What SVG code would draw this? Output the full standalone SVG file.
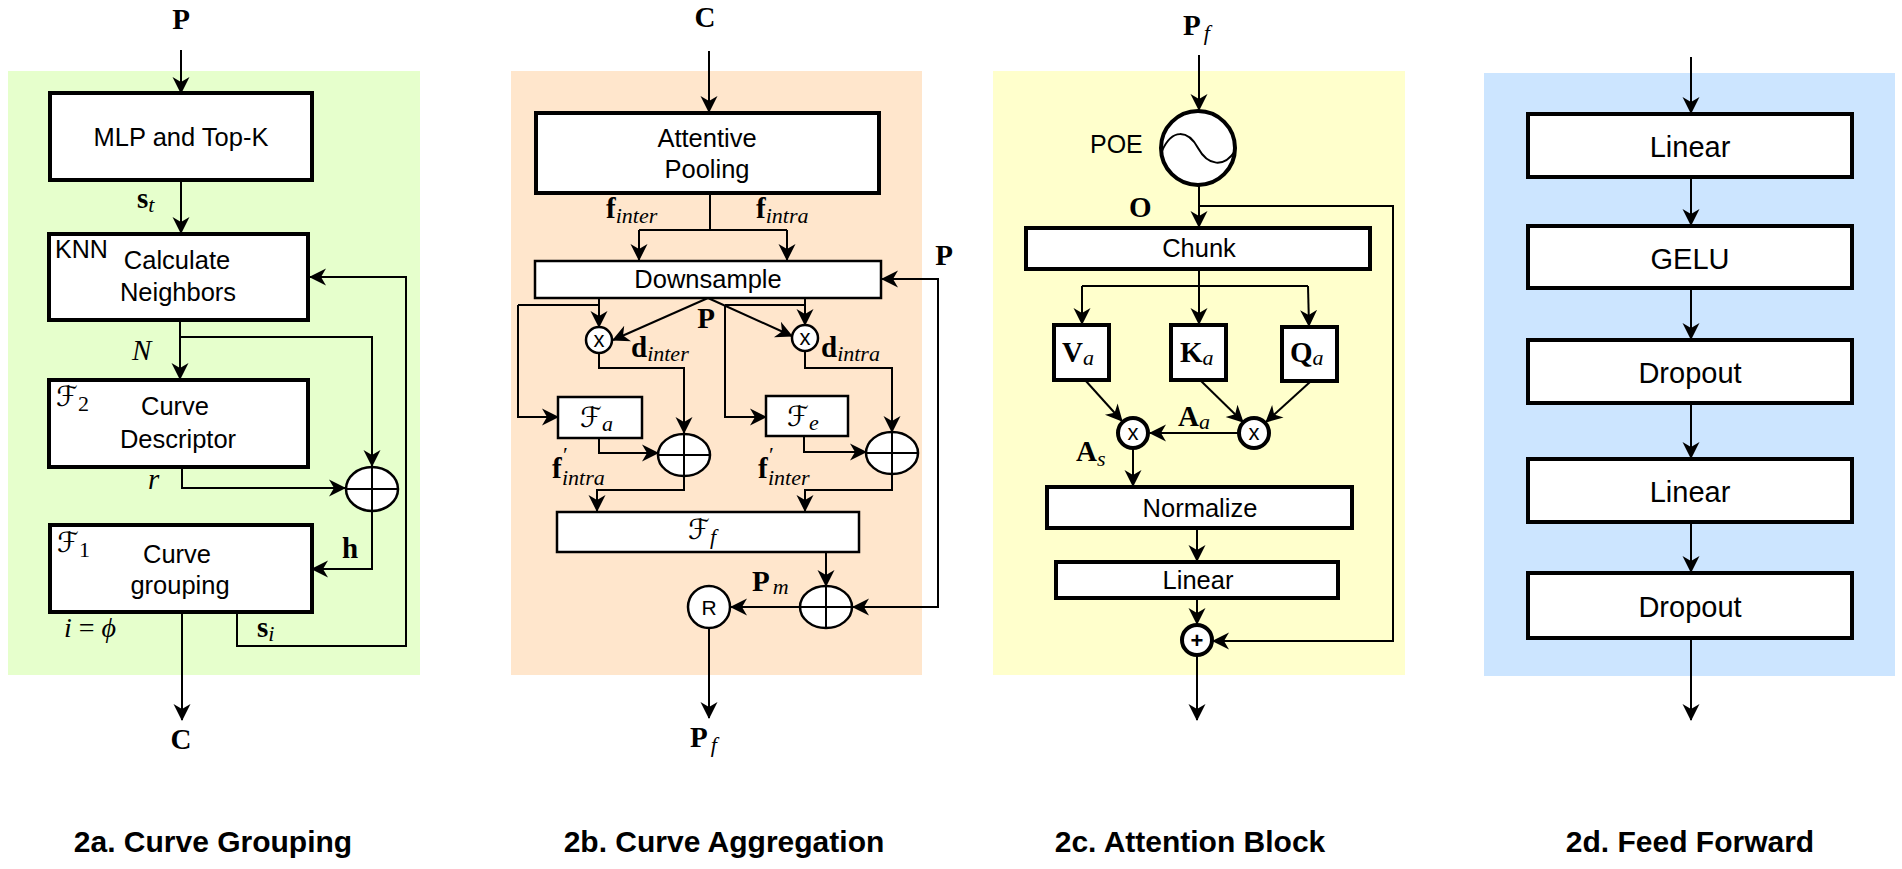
<svg xmlns="http://www.w3.org/2000/svg" width="1902" height="869" viewBox="0 0 1902 869">
  <style>
    .box { fill: #ffffff; stroke: #000; stroke-width: 4; }
    .tbox { fill: #ffffff; stroke: #000; stroke-width: 2.5; }
    .op { fill: #ffffff; stroke: #000; stroke-width: 2.5; }
    .opk { fill: #ffffff; stroke: #000; stroke-width: 4; }
    .ln { fill: none; stroke: #000; stroke-width: 2; }
    .ar { fill: none; stroke: #000; stroke-width: 2; marker-end: url(#arr); }
    .t { font-family: "Liberation Sans", Arial, sans-serif; font-size: 25.5px; fill: #000; text-anchor: middle; }
    .tl { font-family: "Liberation Sans", Arial, sans-serif; font-size: 25px; fill: #000; }
    .t2 { font-family: "Liberation Sans", Arial, sans-serif; font-size: 29px; fill: #000; text-anchor: middle; }
    .sm { font-family: "Liberation Sans", Arial, sans-serif; font-size: 22px; fill: #000; text-anchor: middle; }
    .title { font-family: "Liberation Sans", Arial, sans-serif; font-size: 30px; font-weight: bold; fill: #000; text-anchor: middle; }
    .mb { font-family: "Liberation Serif", "DejaVu Serif", serif; font-size: 29px; font-weight: bold; fill: #000; }
    .mi { font-family: "Liberation Serif", "DejaVu Serif", serif; font-size: 29px; font-style: italic; fill: #000; }
    .mr { font-family: "Liberation Serif", "DejaVu Serif", serif; font-size: 28px; fill: #000; }
    .sub { font-family: "Liberation Serif", "DejaVu Serif", serif; font-size: 22px; font-style: italic; font-weight: normal; }
    .subr { font-family: "Liberation Serif", "DejaVu Serif", serif; font-size: 22px; font-style: normal; font-weight: normal; }
    .cal { font-family: "DejaVu Serif", "DejaVu Sans", serif; font-size: 28px; fill: #000; }
  </style>
  <defs>
    <marker id="arr" markerWidth="20" markerHeight="20" refX="16" refY="9" orient="auto-start-reverse" markerUnits="userSpaceOnUse">
      <path d="M0,0.5 L17,9 L0,17.5 L5,9 Z" fill="#000"/>
    </marker>
  </defs>

  <!-- panel backgrounds -->
  <rect id="bg-grouping" x="8" y="71" width="412" height="604" fill="#E6FFCC"/>
  <rect id="bg-aggregation" x="511" y="71" width="411" height="604" fill="#FFE6CC"/>
  <rect id="bg-attention" x="993" y="71" width="412" height="604" fill="#FFFFCC"/>
  <rect id="bg-feedforward" x="1484" y="73" width="411" height="603" fill="#CCE5FF"/>

  <!-- connectors -->
  <g id="connectors">
    <!-- 2a -->
    <line class="ar" x1="181" y1="50" x2="181" y2="93"/>
    <line class="ar" x1="181" y1="180" x2="181" y2="233"/>
    <line class="ar" x1="180" y1="320" x2="180" y2="379"/>
    <polyline class="ar" points="180,337 372,337 372,466"/>
    <polyline class="ar" points="182,467 182,488 345,488"/>
    <polyline class="ar" points="372,511 372,569 312,569"/>
    <line class="ar" x1="182" y1="612" x2="182" y2="720"/>
    <polyline class="ar" points="237,612 237,646 406,646 406,277 310,277"/>

    <!-- 2b -->
    <line class="ar" x1="709" y1="51" x2="709" y2="112"/>
    <line class="ln" x1="710" y1="193" x2="710" y2="230"/>
    <line class="ln" x1="639" y1="230" x2="787" y2="230"/>
    <line class="ar" x1="639" y1="230" x2="639" y2="260"/>
    <line class="ar" x1="787" y1="230" x2="787" y2="260"/>
    <path class="ar" d="M882,279 L938,279 L938,607 L853,607" marker-start="url(#arr)"/>
    <line class="ar" x1="599" y1="298" x2="599" y2="327"/>
    <line class="ln" x1="518" y1="305" x2="599" y2="305"/>
    <polyline class="ar" points="518,305 518,417 558,417"/>
    <line class="ar" x1="805" y1="298" x2="805" y2="325"/>
    <line class="ln" x1="725" y1="305" x2="805" y2="305"/>
    <polyline class="ar" points="725,305 725,417 766,417"/>
    <line class="ar" x1="708" y1="298" x2="613" y2="340"/>
    <line class="ar" x1="708" y1="298" x2="792" y2="336"/>
    <polyline class="ar" points="599,353 599,368 684,368 684,433"/>
    <polyline class="ar" points="805,351 805,368 892,368 892,432"/>
    <polyline class="ar" points="599,438 599,453 658,453"/>
    <polyline class="ar" points="804,436 804,452 866,452"/>
    <polyline class="ar" points="684,476 684,490 597,490 597,511"/>
    <polyline class="ar" points="892,474 892,490 805,490 805,511"/>
    <line class="ar" x1="826" y1="552" x2="826" y2="586"/>
    <line class="ar" x1="800" y1="607" x2="731" y2="607"/>
    <line class="ar" x1="709" y1="628" x2="709" y2="718"/>

    <!-- 2c -->
    <line class="ar" x1="1199" y1="55" x2="1199" y2="110"/>
    <line class="ar" x1="1199" y1="186" x2="1199" y2="227"/>
    <polyline class="ar" points="1199,206 1393,206 1393,641 1213,641"/>
    <line class="ar" x1="1199" y1="269" x2="1199" y2="324"/>
    <line class="ln" x1="1082" y1="286" x2="1308" y2="286"/>
    <line class="ar" x1="1082" y1="286" x2="1082" y2="324"/>
    <line class="ar" x1="1308" y1="286" x2="1309" y2="326"/>
    <line class="ar" x1="1085" y1="380" x2="1122" y2="421"/>
    <line class="ar" x1="1200" y1="380" x2="1243" y2="422"/>
    <line class="ar" x1="1310" y1="382" x2="1266" y2="422"/>
    <line class="ar" x1="1238" y1="433" x2="1150" y2="433"/>
    <line class="ar" x1="1133" y1="449" x2="1133" y2="486"/>
    <line class="ar" x1="1197" y1="528" x2="1197" y2="561"/>
    <line class="ar" x1="1197" y1="598" x2="1197" y2="624"/>
    <line class="ar" x1="1197" y1="655" x2="1197" y2="720"/>

    <!-- 2d -->
    <line class="ar" x1="1691" y1="57" x2="1691" y2="113"/>
    <line class="ar" x1="1691" y1="177" x2="1691" y2="225"/>
    <line class="ar" x1="1691" y1="288" x2="1691" y2="339"/>
    <line class="ar" x1="1691" y1="403" x2="1691" y2="458"/>
    <line class="ar" x1="1691" y1="522" x2="1691" y2="572"/>
    <line class="ar" x1="1691" y1="638" x2="1691" y2="720"/>
  </g>

  <!-- ===== 2a. Curve Grouping ===== -->
  <g id="a-mlp">
    <rect class="box" x="50" y="93" width="262" height="87"/>
    <text class="t" x="181" y="146">MLP and Top-K</text>
  </g>
  <g id="a-knn">
    <rect class="box" x="49" y="234" width="259" height="86"/>
    <text class="tl" x="55" y="258">KNN</text>
    <text class="t" x="177" y="269">Calculate</text>
    <text class="t" x="178" y="301">Neighbors</text>
  </g>
  <g id="a-descriptor">
    <rect class="box" x="49" y="380" width="259" height="87"/>
    <text class="cal" x="56" y="406">ℱ<tspan class="subr" dy="5">2</tspan></text>
    <text class="t" x="175" y="415">Curve</text>
    <text class="t" x="178" y="448">Descriptor</text>
  </g>
  <g id="a-sum">
    <ellipse class="op" cx="372" cy="489" rx="26" ry="22"/>
    <line class="ln" x1="346" y1="489" x2="398" y2="489"/>
    <line class="ln" x1="372" y1="467" x2="372" y2="511"/>
  </g>
  <g id="a-grouping">
    <rect class="box" x="50" y="525" width="262" height="87"/>
    <text class="cal" x="57" y="552">ℱ<tspan class="subr" dy="5">1</tspan></text>
    <text class="t" x="177" y="563">Curve</text>
    <text class="t" x="180" y="594">grouping</text>
  </g>
  <g id="a-labels">
    <text class="mb" x="181" y="29" text-anchor="middle">P</text>
    <text class="mb" x="137" y="208">s<tspan class="sub" dy="4">t</tspan></text>
    <text class="mi" x="132" y="360">N</text>
    <text class="mi" x="148" y="489">r</text>
    <text class="mb" x="342" y="558">h</text>
    <text class="mb" x="257" y="637">s<tspan class="sub" dy="4">i</tspan></text>
    <text class="mr" x="64" y="637"><tspan font-style="italic">i</tspan> = <tspan font-style="italic">ϕ</tspan></text>
    <text class="mb" x="181" y="749" text-anchor="middle">C</text>
    <text class="title" x="213" y="852">2a. Curve Grouping</text>
  </g>

  <!-- ===== 2b. Curve Aggregation ===== -->
  <g id="b-pooling">
    <rect class="box" x="536" y="113" width="343" height="80"/>
    <text class="t" x="707" y="147">Attentive</text>
    <text class="t" x="707" y="178">Pooling</text>
  </g>
  <g id="b-downsample">
    <rect class="tbox" x="535" y="261" width="346" height="37"/>
    <text class="t" x="708" y="288">Downsample</text>
  </g>
  <g id="b-mul-inter">
    <circle class="op" cx="599" cy="340" r="13"/>
    <text class="sm" x="599" y="347">x</text>
  </g>
  <g id="b-mul-intra">
    <circle class="op" cx="805" cy="338" r="13"/>
    <text class="sm" x="805" y="345">x</text>
  </g>
  <g id="b-fa">
    <rect class="tbox" x="558" y="397" width="84" height="41"/>
    <text class="cal" x="580" y="427">ℱ<tspan class="sub" dy="4">a</tspan></text>
  </g>
  <g id="b-fe">
    <rect class="tbox" x="766" y="396" width="82" height="40"/>
    <text class="cal" x="787" y="426">ℱ<tspan class="sub" dy="4">e</tspan></text>
  </g>
  <g id="b-sum-inter">
    <ellipse class="op" cx="684" cy="455" rx="26" ry="21"/>
    <line class="ln" x1="658" y1="455" x2="710" y2="455"/>
    <line class="ln" x1="684" y1="434" x2="684" y2="476"/>
  </g>
  <g id="b-sum-intra">
    <ellipse class="op" cx="892" cy="453" rx="26" ry="21"/>
    <line class="ln" x1="866" y1="453" x2="918" y2="453"/>
    <line class="ln" x1="892" y1="432" x2="892" y2="474"/>
  </g>
  <g id="b-ff">
    <rect class="tbox" x="557" y="512" width="302" height="40"/>
    <text class="cal" x="688" y="539">ℱ<tspan class="sub" dy="5">f</tspan></text>
  </g>
  <g id="b-sum-out">
    <ellipse class="op" cx="826" cy="607" rx="26" ry="21"/>
    <line class="ln" x1="800" y1="607" x2="852" y2="607"/>
    <line class="ln" x1="826" y1="586" x2="826" y2="628"/>
  </g>
  <g id="b-reshape">
    <circle class="op" cx="709" cy="607" r="21"/>
    <text class="t" x="709" y="615" style="font-size:21px">R</text>
  </g>
  <g id="b-labels">
    <text class="mb" x="705" y="27" text-anchor="middle">C</text>
    <text class="mb" x="606" y="218">f<tspan class="sub" dy="5">inter</tspan></text>
    <text class="mb" x="756" y="218">f<tspan class="sub" dy="5">intra</tspan></text>
    <text class="mb" x="944" y="265" text-anchor="middle">P</text>
    <text class="mb" x="706" y="328" text-anchor="middle">P</text>
    <text class="mb" x="631" y="357">d<tspan class="sub" dy="4">inter</tspan></text>
    <text class="mb" x="821" y="357">d<tspan class="sub" dy="4">intra</tspan></text>
    <text class="mb" x="552" y="478">f</text>
    <text class="subr" x="563" y="462" font-size="18">′</text>
    <text class="sub" x="562" y="485">intra</text>
    <text class="mb" x="758" y="478">f</text>
    <text class="subr" x="769" y="462" font-size="18">′</text>
    <text class="sub" x="768" y="485">inter</text>
    <text class="mb" x="752" y="591">P<tspan class="sub" dx="3" dy="3">m</tspan></text>
    <text class="mb" x="690" y="747">P<tspan class="sub" dx="3" dy="5">f</tspan></text>
    <text class="title" x="724" y="852">2b. Curve Aggregation</text>
  </g>

  <!-- ===== 2c. Attention Block ===== -->
  <g id="c-poe">
    <circle class="opk" cx="1198" cy="148" r="37" stroke-width="4.5"/>
    <path class="ln" d="M1162,151 C1172,128 1188,130 1198,148 C1208,166 1224,168 1235,151"/>
    <text class="tl" x="1090" y="153">POE</text>
  </g>
  <g id="c-chunk">
    <rect class="box" x="1026" y="228" width="344" height="41"/>
    <text class="t" x="1199" y="257">Chunk</text>
  </g>
  <g id="c-v">
    <rect class="box" x="1054" y="325" width="55" height="55"/>
    <text class="mb" x="1062" y="362">V<tspan class="sub" dy="3">a</tspan></text>
  </g>
  <g id="c-k">
    <rect class="box" x="1171" y="325" width="55" height="55"/>
    <text class="mb" x="1180" y="362">K<tspan class="sub" dy="3">a</tspan></text>
  </g>
  <g id="c-q">
    <rect class="box" x="1282" y="327" width="55" height="54"/>
    <text class="mb" x="1290" y="362">Q<tspan class="sub" dy="3">a</tspan></text>
  </g>
  <g id="c-mul-out">
    <circle class="opk" cx="1133" cy="433" r="15"/>
    <text class="sm" x="1133" y="440">x</text>
  </g>
  <g id="c-mul-attn">
    <circle class="opk" cx="1254" cy="433" r="15"/>
    <text class="sm" x="1254" y="440">x</text>
  </g>
  <g id="c-normalize">
    <rect class="box" x="1047" y="487" width="305" height="41"/>
    <text class="t" x="1200" y="517">Normalize</text>
  </g>
  <g id="c-linear">
    <rect class="box" x="1056" y="562" width="282" height="36"/>
    <text class="t" x="1198" y="589">Linear</text>
  </g>
  <g id="c-add">
    <circle class="opk" cx="1197" cy="640" r="15"/>
    <text class="sm" x="1197" y="648" font-weight="bold">+</text>
  </g>
  <g id="c-labels">
    <text class="mb" x="1183" y="35">P<tspan class="sub" dx="3" dy="5">f</tspan></text>
    <text class="mb" x="1129" y="217">O</text>
    <text class="mb" x="1178" y="426">A<tspan class="sub" dy="3">a</tspan></text>
    <text class="mb" x="1076" y="461">A<tspan class="sub" dy="5">s</tspan></text>
    <text class="title" x="1190" y="852">2c. Attention Block</text>
  </g>

  <!-- ===== 2d. Feed Forward ===== -->
  <g id="d-linear1">
    <rect class="box" x="1528" y="114" width="324" height="63"/>
    <text class="t2" x="1690" y="157">Linear</text>
  </g>
  <g id="d-gelu">
    <rect class="box" x="1528" y="226" width="324" height="62"/>
    <text class="t2" x="1690" y="269">GELU</text>
  </g>
  <g id="d-dropout1">
    <rect class="box" x="1528" y="340" width="324" height="63"/>
    <text class="t2" x="1690" y="383">Dropout</text>
  </g>
  <g id="d-linear2">
    <rect class="box" x="1528" y="459" width="324" height="63"/>
    <text class="t2" x="1690" y="502">Linear</text>
  </g>
  <g id="d-dropout2">
    <rect class="box" x="1528" y="573" width="324" height="65"/>
    <text class="t2" x="1690" y="617">Dropout</text>
  </g>
  <g id="d-labels">
    <text class="title" x="1690" y="852">2d. Feed Forward</text>
  </g>
</svg>
